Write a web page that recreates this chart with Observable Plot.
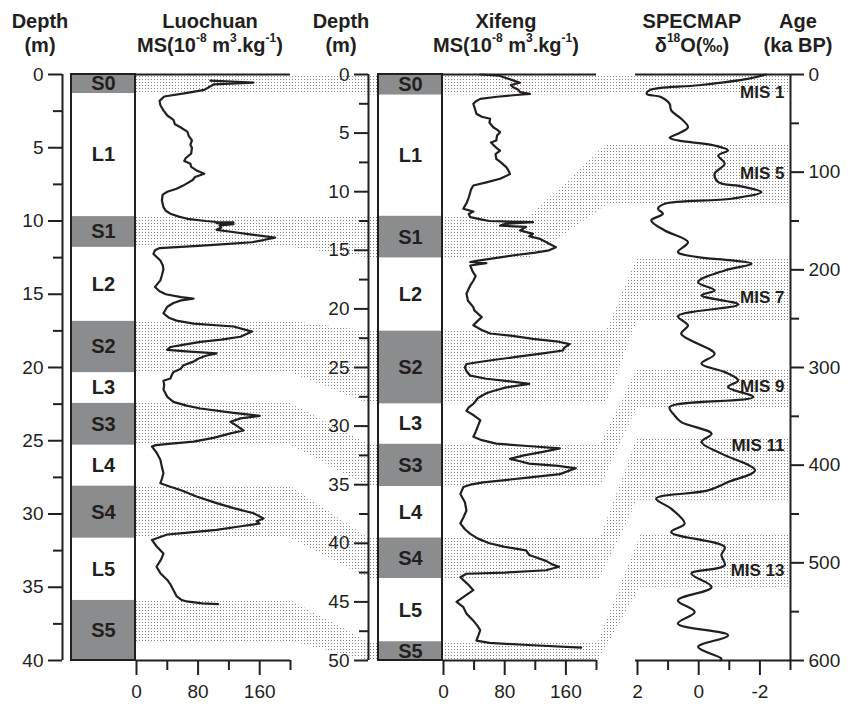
<!DOCTYPE html>
<html>
<head>
<meta charset="utf-8">
<script src="https://cdn.jsdelivr.net/npm/d3@7"></script>
<script src="https://cdn.jsdelivr.net/npm/@observablehq/plot@0.6"></script>
<style>
  body { margin: 0; background: #fff; }
  #wrap { position: relative; width: 853px; height: 706px; font-family: "Liberation Sans", Arial, sans-serif; color: #231f20; }
  #chart { position: absolute; left: 0; top: 0; }
  .hd { position: absolute; top: 9px; transform: translateX(-50%); text-align: center; font-weight: bold; font-size: 20px; line-height: 24px; white-space: nowrap; }
  .hd sup { font-size: 12px; line-height: 0; position: relative; top: -2px; }
</style>
</head>
<body>
<div id="wrap">
  <div id="chart"></div>
  <div class="hd" style="left:40px">Depth<br>(m)</div>
  <div class="hd" style="left:210px">Luochuan<br>MS(10<sup>-8</sup> m<sup>3</sup>.kg<sup>-1</sup>)</div>
  <div class="hd" style="left:341px">Depth<br>(m)</div>
  <div class="hd" style="left:506px">Xifeng<br>MS(10<sup>-8</sup> m<sup>3</sup>.kg<sup>-1</sup>)</div>
  <div class="hd" style="left:692px">SPECMAP<br>δ<sup>18</sup>O(‰)</div>
  <div class="hd" style="left:798px">Age<br>(ka BP)</div>
</div>
<script>
// ---------------- DATA ----------------
// Stratigraphic units (top to bottom)
const unitNames = ["S0","L1","S1","L2","S2","L3","S3","L4","S4","L5","S5"];
const luochuanBounds = [0, 1.3, 9.7, 11.8, 16.85, 20.35, 22.45, 25.3, 28.1, 31.65, 35.9, 40];
const xifengBounds   = [0, 1.75, 12.1, 15.65, 21.9, 28.1, 31.55, 35.15, 39.55, 43.0, 48.4, 50];

// Paleosol correlation bands
const bandNames   = ["S0","S1","S2","S3","S4","S5"];
const luoBandTop  = [0, 9.7, 16.85, 22.45, 28.1, 35.9];
const luoBandBot  = [1.3, 11.8, 20.35, 25.3, 31.65, 38.7];
const xfBandTop   = [0, 12.1, 21.9, 31.55, 39.55, 48.4];
const xfBandBot   = [1.75, 15.65, 28.1, 35.15, 43.0, 50];
const misNames    = ["MIS 1","MIS 5","MIS 7","MIS 9","MIS 11","MIS 13"];
const misTop      = [0, 71, 188, 301, 372, 472];
const misBot      = [20, 134, 252, 341, 436, 525];
const misLabelAge = [18, 101, 228, 319, 380, 508];

// Luochuan MS [depth m, MS]
const luochuanMS = [[0.42,96],[0.55,152],[0.68,100],[1.05,88],[1.25,66],[1.5,36],[1.8,30],[2.1,31],[2.45,35],[2.8,40],[3.1,48],[3.4,50],[3.6,57],[3.9,66],[4.2,68],[4.5,72],[4.8,70],[5.0,72],[5.4,71],[5.7,64],[5.9,62],[6.1,70],[6.3,71],[6.55,78],[6.77,88],[7.0,76],[7.2,73],[7.45,65],[7.6,60],[7.8,52],[8.0,40],[8.2,34],[8.6,33],[9.05,35],[9.3,38],[9.5,44],[9.7,55],[9.85,66],[10.0,90],[10.07,104],[10.1,126],[10.15,104],[10.22,126],[10.3,108],[10.45,110],[10.6,104],[10.75,125],[10.9,145],[11.13,180],[11.3,165],[11.45,150],[11.6,110],[11.7,80],[11.85,30],[12.0,24],[12.25,22],[12.7,31],[13.0,34],[13.3,35],[13.7,33],[14.05,31],[14.5,24],[14.8,30],[15.0,38],[15.2,58],[15.3,74],[15.42,58],[15.6,48],[15.85,40],[16.3,35],[16.6,42],[16.8,52],[17.0,74],[17.2,126],[17.55,150],[17.9,135],[18.1,110],[18.25,83],[18.45,60],[18.6,44],[18.8,40],[18.9,65],[19.04,104],[19.2,90],[19.4,80],[19.6,74],[19.85,61],[20.1,57],[20.3,48],[20.5,46],[20.75,44],[20.9,35],[21.2,36],[21.5,35],[22.0,40],[22.35,48],[22.6,65],[22.8,83],[23.1,126],[23.3,160],[23.47,135],[23.7,122],[23.9,128],[24.15,135],[24.3,139],[24.5,122],[24.8,100],[25.06,74],[25.2,45],[25.3,25],[25.4,20],[25.8,26],[26.3,31],[26.8,33],[27.2,35],[27.6,33],[27.9,31],[28.1,42],[28.36,57],[28.8,78],[29.26,104],[29.6,126],[29.95,152],[30.3,165],[30.5,156],[30.65,160],[30.8,140],[31.08,104],[31.3,60],[31.4,40],[31.77,20],[32.2,26],[32.7,35],[33.1,32],[33.6,26],[34.04,31],[34.5,40],[34.8,44],[35.2,48],[35.6,52],[35.85,58],[35.97,65],[36.1,85],[36.15,106]];

// Xifeng MS [depth m, MS]
const xifengMS = [[0,48],[0.1,73],[0.5,91],[0.7,100],[0.9,88],[1.08,91],[1.3,98],[1.5,100],[1.65,113],[1.75,95],[1.9,70],[2.08,48],[2.3,42],[2.5,39],[2.9,41],[3.35,43],[3.6,50],[3.78,61],[4.1,60],[4.5,65],[4.7,70],[4.92,74],[5.2,70],[5.63,69],[5.8,62],[6.0,65],[6.3,70],[6.5,74],[6.8,68],[7.2,69],[7.5,75],[7.9,82],[8.2,85],[8.5,87],[8.9,74],[9.2,56],[9.47,39],[9.8,36],[10.04,35],[10.5,33],[11.0,30],[11.2,28],[11.46,26],[11.7,39],[11.9,33],[12.17,35],[12.4,52],[12.5,60],[12.6,117],[12.75,80],[12.9,74],[13.0,108],[13.3,100],[13.6,117],[13.8,112],[14.0,125],[14.3,134],[14.5,140],[14.73,147],[15.0,138],[15.2,120],[15.4,95],[15.6,74],[15.9,43],[16.0,35],[16.1,56],[16.3,35],[16.8,38],[17.2,42],[17.6,39],[18.0,35],[18.7,30],[19.3,32],[19.85,39],[20.1,40],[20.7,50],[21.0,45],[21.4,39],[21.8,50],[22.1,61],[22.3,90],[22.55,117],[22.8,150],[23.0,165],[23.3,158],[23.55,156],[23.8,130],[24.1,95],[24.4,60],[24.7,30],[25.0,28],[25.3,30],[25.7,35],[25.96,56],[26.2,90],[26.4,112],[26.7,82],[27.0,65],[27.2,56],[27.6,45],[28.1,39],[28.4,33],[28.7,30],[29.1,40],[29.5,48],[30.0,45],[30.5,42],[30.9,39],[31.2,50],[31.5,69],[31.7,110],[31.9,152],[32.2,130],[32.5,105],[32.8,87],[33.0,100],[33.2,112],[33.4,150],[33.6,173],[34.1,152],[34.4,110],[34.8,52],[35.0,35],[35.2,26],[35.8,22],[36.5,28],[37.2,30],[37.8,26],[38.3,22],[38.8,28],[39.2,35],[39.6,45],[40.0,60],[40.3,80],[40.6,108],[41.0,112],[41.3,125],[41.5,134],[41.8,142],[42.0,151],[42.3,134],[42.5,80],[42.6,30],[42.9,22],[43.5,32],[44.0,39],[44.4,30],[45.0,17],[45.45,26],[46.0,30],[46.6,39],[47.0,44],[47.4,48],[47.8,46],[48.3,43],[48.5,60],[48.7,117],[48.9,180]];

// SPECMAP δ18O [age ka, value]
const specmap = [[0,-2.2],[4.4,-1.6],[11,0.0],[16,1.6],[19.8,1.7],[23.2,1.22],[30,0.95],[36.8,0.9],[45.4,0.57],[54,0.35],[60.7,0.68],[64.8,0.95],[67.5,0.68],[72.7,-0.52],[77.8,-0.96],[82.9,-0.64],[91.4,-0.85],[101.6,-0.52],[110.2,-0.64],[114.6,-1.4],[120.4,-2.05],[127.2,-1.07],[132.4,1.11],[137.5,1.33],[142.6,1.17],[149.4,1.55],[159.7,1.11],[171.6,0.35],[181.9,0.68],[187,0.02],[190.4,-1.07],[193.8,-1.73],[200.6,-0.85],[212.6,0.02],[221,-0.52],[226.2,-0.09],[235.5,-1.29],[247.5,0.68],[257,0.35],[265.4,0.57],[286,-0.52],[296,-0.09],[304.7,-0.85],[313.2,-1.29],[320,-0.96],[330.3,-1.78],[340.5,0.95],[349,0.79],[355.9,0.57],[367.8,-0.42],[376.3,-0.09],[388.2,-0.74],[405.3,-1.84],[417.3,-0.96],[425.8,-0.31],[434.3,1.39],[444.5,0.9],[459.9,0.46],[468.5,0.9],[483.8,-0.85],[492,-0.74],[502.6,-0.85],[511,0.24],[524.8,-0.42],[538.4,0.68],[550.3,0.13],[562.2,0.68],[574.2,-0.96],[586.2,0.02],[598,-0.74],[600,-0.7]];

// Tick values
const luoDepthTicks = [0,5,10,15,20,25,30,35,40];
const xfDepthTicks  = [0,5,10,15,20,25,30,35,40,45,50];
const ageTicks      = [0,100,200,300,400,500,600];
const msTicks       = [0,40,80,120,160,200];
const msLabels      = [0,80,160];
const d18Ticks      = [2,1,0,-1,-2,-3];
const d18Labels     = [2,0,-2];

// ---------------- LAYOUT ----------------
const W = 853, H = 706, TOP = 74, BOT = 660;
const LAY = {
  luoAxis: 62, luoCol: [71, 135], luoMS: [136, 290],
  xfAxis: 368, xfCol: [378, 442], xfMS: [443, 596],
  spMS: [637, 790], ageAxis: 790,
  bandX0: [596, 530, 606, 600, 600, 598],
  bandX1: [637, 607, 637, 637, 637, 640],
  major: 14, minor: 9
};
const ink = "#231f20", soil = "#8b8c8e";
const fr = px => px / (BOT - TOP);            // pixel offset -> fraction of depth frame
const fLuo = d => d / 40, fXf = d => d / 50, fAge = a => a / 600;
const luoX = d3.scaleLinear([0, 200], LAY.luoMS);
const xfX  = d3.scaleLinear([0, 200], LAY.xfMS);
const spX  = d3.scaleLinear([2, -3], LAY.spMS);

// band polygons
const bandPts = [];
bandNames.forEach((b, i) => {
  [
    [LAY.luoMS[0], fLuo(luoBandTop[i]), fLuo(luoBandBot[i])],
    [LAY.luoMS[1], fLuo(luoBandTop[i]), fLuo(luoBandBot[i])],
    [LAY.xfAxis, fXf(xfBandTop[i]), fXf(xfBandBot[i])],
    [LAY.bandX0[i], fXf(xfBandTop[i]), fXf(xfBandBot[i])],
    [LAY.bandX1[i], fAge(misTop[i]), fAge(misBot[i])],
    [LAY.ageAxis, fAge(misTop[i]), fAge(misBot[i])]
  ].forEach(([x, y1, y2]) => bandPts.push({band: b, x, y1, y2}));
});

const unitIdx = d3.range(unitNames.length);
const isSoil = i => unitNames[i][0] === "S";
const minorOf = (ticks) => ticks.slice(0, -1).map((t, i) => (t + ticks[i + 1]) / 2);

function column(bounds, f, col) {
  const cx = (col[0] + col[1]) / 2;
  return [
    Plot.rect(unitIdx.filter(i => !isSoil(i)), {x1: col[0], x2: col[1], y1: i => f(bounds[i]), y2: i => f(bounds[i + 1]), fill: "white"}),
    Plot.rect(unitIdx.filter(isSoil), {x1: col[0], x2: col[1], y1: i => f(bounds[i]), y2: i => f(bounds[i + 1]), fill: soil}),
    Plot.rect([0], {x1: col[0], x2: col[1], y1: 0, y2: 1, fill: "none", stroke: ink, strokeWidth: 2}),
    Plot.text(unitIdx, {x: cx, y: i => f((bounds[i] + bounds[i + 1]) / 2), text: i => unitNames[i], fontWeight: "bold", fontSize: 20, fill: ink})
  ];
}

function depthAxis(ticks, f, ax) {
  return [
    Plot.ruleX([ax], {x: d => d, y1: 0, y2: 1, stroke: ink, strokeWidth: 2}),
    Plot.ruleY(ticks, {y: f, x1: ax - LAY.major, x2: ax, stroke: ink, strokeWidth: 2}),
    Plot.ruleY(minorOf(ticks), {y: f, x1: ax - LAY.minor, x2: ax, stroke: ink, strokeWidth: 2}),
    Plot.text(ticks, {y: f, x: ax - LAY.major - 5, text: d => String(d), textAnchor: "end", fontSize: 19, fill: ink})
  ];
}

function bottomAxis(ticks, labels, sx, range) {
  return [
    Plot.ruleY([1], {y: d => d, x1: range[0], x2: range[1], stroke: ink, strokeWidth: 2}),
    Plot.ruleY([0], {y: d => d, x1: range[0], x2: range[1], stroke: ink, strokeWidth: 2}),
    Plot.ruleX(ticks, {x: d => sx(d), y1: 1, y2: d => 1 + fr(labels.includes(d) ? 15 : 10), stroke: ink, strokeWidth: 2}),
    Plot.text(labels, {x: d => sx(d), y: 1, dy: 31, text: d => String(d), fontSize: 19, fill: ink})
  ];
}

const chart = Plot.plot({
  width: W, height: H,
  marginLeft: 0, marginRight: 0, marginTop: TOP, marginBottom: H - BOT,
  x: {domain: [0, W], axis: null},
  y: {domain: [0, 1], reverse: true, axis: null},
  style: {fontFamily: '"Liberation Sans", Arial, sans-serif', background: "white", color: ink, overflow: "visible"},
  marks: [
    Plot.areaY(bandPts, {x: "x", y1: "y1", y2: "y2", z: "band", fill: "#ececec"}),
    ...column(luochuanBounds, fLuo, LAY.luoCol),
    ...column(xifengBounds, fXf, LAY.xfCol),
    ...depthAxis(luoDepthTicks, fLuo, LAY.luoAxis),
    ...depthAxis(xfDepthTicks, fXf, LAY.xfAxis),
    // age axis (right side of SPECMAP)
    Plot.ruleX([LAY.ageAxis], {x: d => d, y1: 0, y2: 1, stroke: ink, strokeWidth: 2}),
    Plot.ruleY(ageTicks, {y: fAge, x1: LAY.ageAxis, x2: LAY.ageAxis + LAY.major, stroke: ink, strokeWidth: 2}),
    Plot.ruleY(minorOf(ageTicks), {y: fAge, x1: LAY.ageAxis, x2: LAY.ageAxis + LAY.minor, stroke: ink, strokeWidth: 2}),
    Plot.text(ageTicks, {y: fAge, x: LAY.ageAxis + LAY.major + 4, text: d => String(d), textAnchor: "start", fontSize: 19, fill: ink}),
    ...bottomAxis(msTicks, msLabels, luoX, LAY.luoMS),
    ...bottomAxis(msTicks, msLabels, xfX, LAY.xfMS),
    ...bottomAxis(d18Ticks, d18Labels, spX, [LAY.spMS[0] - 2, LAY.spMS[1]]),
    // curves
    Plot.line(luochuanMS, {x: d => luoX(d[1]), y: d => fLuo(d[0]), stroke: ink, strokeWidth: 2.2, strokeLinejoin: "round"}),
    Plot.line(xifengMS, {x: d => xfX(d[1]), y: d => fXf(d[0]), stroke: ink, strokeWidth: 2.2, strokeLinejoin: "round"}),
    Plot.line(specmap, {x: d => spX(d[1]), y: d => fAge(d[0]), stroke: ink, strokeWidth: 2.2, curve: "catmull-rom"}),
    // MIS labels
    Plot.text(misNames, {x: LAY.ageAxis - 6, y: (d, i) => fAge(misLabelAge[i]), text: d => d, textAnchor: "end", fontWeight: "bold", fontSize: 17, fill: ink})
  ]
});

// dotted pattern for correlation bands
const defs = document.createElementNS("http://www.w3.org/2000/svg", "defs");
defs.innerHTML = '<pattern id="dots" width="3" height="3" patternUnits="userSpaceOnUse"><rect x="1" y="1" width="1" height="1" fill="#858585"/></pattern>';
chart.insertBefore(defs, chart.firstChild);
chart.querySelectorAll('g[aria-label="area"]').forEach(g => g.setAttribute("fill", "url(#dots)"));

document.getElementById("chart").appendChild(chart);
</script>
</body>
</html>
